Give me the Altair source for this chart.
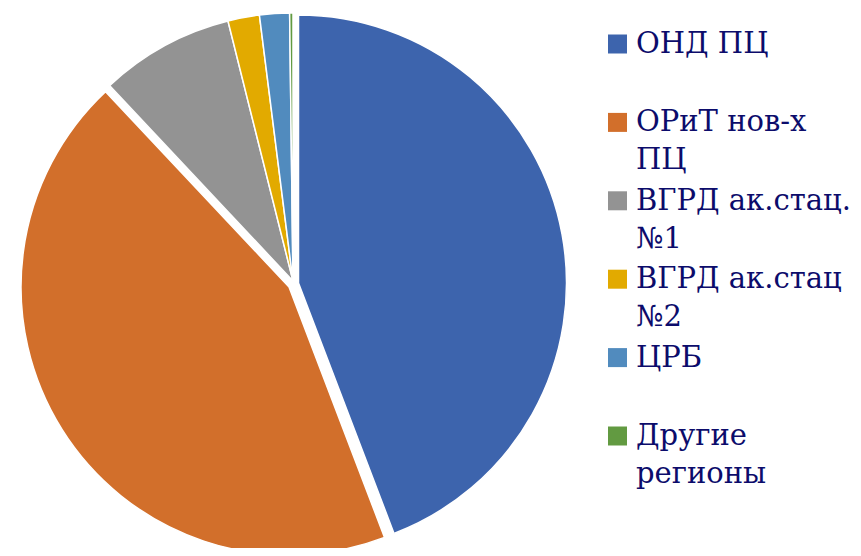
import altair as alt
import pandas as pd

categories = ["ОНД ПЦ", "ОРиТ нов-х ПЦ", "ВГРД ак.стац. №1", "ВГРД ак.стац №2", "ЦРБ", "Другие регионы"]
values = [44.2, 43.8, 8.1, 1.9, 1.8, 0.2]
line1 = ["ОНД ПЦ", "ОРиТ нов-х", "ВГРД ак.стац.", "ВГРД ак.стац", "ЦРБ", "Другие"]
line2 = ["", "ПЦ", "№1", "№2", "", "регионы"]
colors = ["#3D64AD", "#D26F2B", "#939393", "#E2AA00", "#518BBE", "#629A41"]

df = pd.DataFrame({
    "cat": categories,
    "value": values,
    "order": list(range(len(categories))),
    "l1": line1,
    "l2": line2,
})
total = sum(values)

W, H = 845, 540
CX, CY, R = 285, 273, 268

color_scale = alt.Scale(domain=categories, range=colors)
theta_scale = alt.Scale(domain=[0, total], range=[0, 6.283185307179586])

base = alt.Chart(df).transform_window(
    cum="sum(value)", sort=[alt.SortField("order")], frame=[None, 0]
).transform_calculate(start="datum.cum - datum.value")


def slice_layer(filt, dx, dy):
    return base.transform_filter(filt).mark_arc(
        radius=R, stroke="white", strokeWidth=1.5, xOffset=dx, yOffset=dy
    ).encode(
        theta=alt.Theta("start:Q", scale=theta_scale, stack=None),
        theta2="cum:Q",
        color=alt.Color("cat:N", scale=color_scale, legend=None),
        x=alt.value(CX),
        y=alt.value(CY),
    )


blue = slice_layer("datum.order == 0", 5.5, 2)
orange = slice_layer("datum.order == 1", -4, 6)
rest = slice_layer("datum.order >= 2", 0, 0)

yscale = alt.Scale(domain=categories, range=[36, 428], type="point", padding=0)
font = "DejaVu Serif"
tcol = "#0c0c6b"
fs = 29

squares = alt.Chart(df).mark_square(size=361, opacity=1).encode(
    x=alt.value(609.5),
    y=alt.Y("cat:N", scale=yscale, axis=None),
    color=alt.Color("cat:N", scale=color_scale, legend=None),
)
t1 = alt.Chart(df).mark_text(
    align="left", baseline="alphabetic", dy=9, font=font, fontSize=fs, color=tcol
).encode(x=alt.value(628), y=alt.Y("cat:N", scale=yscale, axis=None), text="l1:N")
t2 = alt.Chart(df).mark_text(
    align="left", baseline="alphabetic", dy=47, font=font, fontSize=fs, color=tcol
).encode(x=alt.value(628), y=alt.Y("cat:N", scale=yscale, axis=None), text="l2:N")

chart = alt.layer(orange, blue, rest, squares, t1, t2).properties(
    width=W, height=H, padding=0, autosize=alt.AutoSizeParams(type="none")
).configure_view(stroke=None)

chart.save("out.html", embed_options={"renderer": "svg", "actions": False})
